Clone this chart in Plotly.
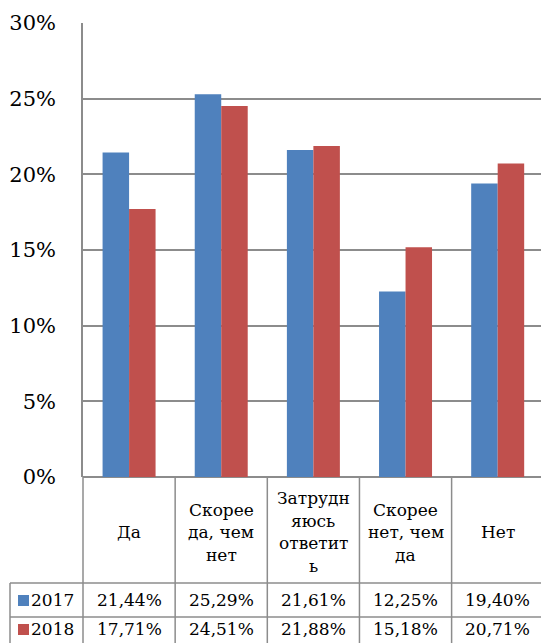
import plotly.graph_objects as go

# Survey answers, share of respondents (%)
categories = ["Да", "Скорее да, чем нет", "Затрудняюсь ответить", "Скорее нет, чем да", "Нет"]
# how each category label wraps inside its table cell
category_lines = [
    ["Да"],
    ["Скорее", "да, чем", "нет"],
    ["Затрудн", "яюсь", "ответит", "ь"],
    ["Скорее", "нет, чем", "да"],
    ["Нет"],
]
years = ["2017", "2018"]
values_2017 = [21.44, 25.29, 21.61, 12.25, 19.40]
values_2018 = [17.71, 24.51, 21.88, 15.18, 20.71]
y_ticks = [0, 5, 10, 15, 20, 25, 30]

COLORS = {"2017": "#4F81BD", "2018": "#C0504D"}
GRID = "#8C8C8C"
# DejaVu Serif is the serif face the renderer actually has; it runs wider than
# Times, so the table text is a little smaller to keep the same widths.
FONT = dict(family="DejaVu Serif", size=17, color="black")
TICK_FONT = dict(family="DejaVu Serif", size=21, color="black")

W, H = 541, 643
L, R, T, B = 83, 0, 23, 166
plot_w = W - L - R
plot_h = H - T - B


def px_x(px):
    """Pixel x -> paper x."""
    return (px - L) / plot_w


def px_y(py):
    """Pixel y (from top) -> paper y."""
    return (H - B - py) / plot_h


def fmt(v):
    return f"{v:.2f}%".replace(".", ",")


fig = go.Figure()
for year, vals in zip(years, [values_2017, values_2018]):
    fig.add_trace(go.Bar(
        x=list(range(len(categories))), y=vals, name=year,
        marker=dict(color=COLORS[year], line=dict(width=0)),
        hoverinfo="y",
    ))

shapes = []
annotations = []

# table geometry (pixels)
row_top = H - B            # x-axis line
row_cat = 583              # bottom of category row
row_2017 = 617             # bottom of 2017 row
row_end = H + 10
left_col = 10


def hline(py, x0, x1):
    shapes.append(dict(type="line", xref="paper", yref="paper",
                       x0=px_x(x0), x1=px_x(x1), y0=px_y(py), y1=px_y(py),
                       line=dict(color=GRID, width=1.5)))


def vline(x, xref, y0, y1):
    shapes.append(dict(type="line", xref=xref, yref="paper",
                       x0=x, x1=x, y0=px_y(y0), y1=px_y(y1),
                       line=dict(color=GRID, width=1.5)))


hline(row_cat, left_col, W + 5)
hline(row_2017, left_col, W + 5)
vline(px_x(left_col), "paper", row_cat, row_end)
vline(0, "paper", row_top, row_end)
for i in range(len(categories) - 1):
    vline(i + 0.5, "x", row_top, row_end)

# category label cells
cat_center = (row_top + row_cat) / 2 + 2
line_step = 22.5
for i, lines in enumerate(category_lines):
    n = len(lines)
    for k, txt in enumerate(lines):
        py = cat_center + (k - (n - 1) / 2) * line_step
        annotations.append(dict(x=i, xref="x", y=px_y(py), yref="paper",
                                text=txt, showarrow=False, font=FONT,
                                xanchor="center", yanchor="middle"))

# data rows with legend keys
row_centers = {"2017": 600, "2018": 629}
for year, vals in zip(years, [values_2017, values_2018]):
    cy = row_centers[year]
    shapes.append(dict(type="rect", xref="paper", yref="paper",
                       x0=px_x(18), x1=px_x(29), y0=px_y(cy - 5), y1=px_y(cy + 6),
                       fillcolor=COLORS[year], line=dict(width=0)))
    annotations.append(dict(x=px_x(52), xref="paper", y=px_y(cy), yref="paper",
                            text=year, showarrow=False, font=FONT,
                            xanchor="center", yanchor="middle"))
    for i, v in enumerate(vals):
        annotations.append(dict(x=i, xref="x", y=px_y(cy), yref="paper",
                                text=fmt(v), showarrow=False, font=FONT,
                                xanchor="center", yanchor="middle"))

fig.update_layout(
    template="none",
    width=W, height=H,
    margin=dict(l=L, r=R, t=T, b=B, autoexpand=False),
    paper_bgcolor="white", plot_bgcolor="white",
    barmode="group", bargap=0.425, bargroupgap=0,
    showlegend=False,
    font=FONT,
    shapes=shapes,
    annotations=annotations,
    xaxis=dict(range=[-0.5, len(categories) - 0.53], showticklabels=False,
               showgrid=False, zeroline=False, showline=False, ticks="",
               automargin=False),
    yaxis=dict(range=[0, 30], tickmode="array", tickvals=y_ticks,
               ticktext=[f"{t}%" for t in y_ticks],
               showgrid=True, gridcolor=GRID, gridwidth=1.5,
               zeroline=True, zerolinecolor=GRID, zerolinewidth=1.5,
               showline=True, linecolor=GRID, linewidth=1.5,
               ticks="", ticklabelstandoff=21, tickfont=TICK_FONT,
               automargin=False),
)

# drop the browser's default 8px page margin so the figure sits at the corner
fig.write_html("out.html", config={"displayModeBar": False},
               post_script="document.body.style.margin = '0';")
